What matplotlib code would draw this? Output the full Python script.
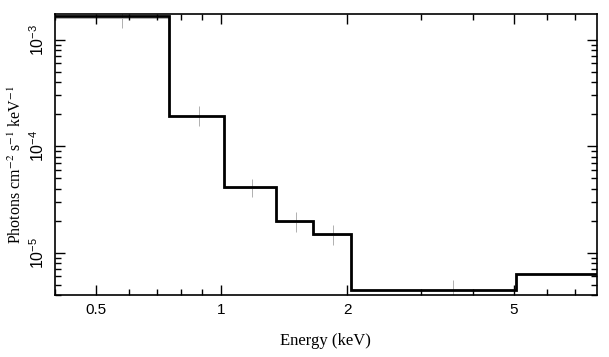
import matplotlib
matplotlib.use("Agg")
import matplotlib.pyplot as plt
from matplotlib.ticker import FixedLocator, FixedFormatter, LogLocator, NullFormatter

plt.rcParams["mathtext.fontset"] = "custom"
plt.rcParams["mathtext.rm"] = "Liberation Sans"
plt.rcParams["mathtext.it"] = "Liberation Sans:italic"
plt.rcParams["mathtext.bf"] = "Liberation Sans:bold"

# model step (folded spectrum)
edges = [0.4, 0.751, 1.013, 1.351, 1.656, 2.04, 5.07, 7.9]
model = [1.68e-3, 1.92e-4, 4.1e-5, 1.97e-5, 1.5e-5, 4.5e-6, 6.25e-6]

# data points (grey crosses)
ex = [0.579, 0.883, 1.184, 1.507, 1.848, 3.57]
ey = [1.6e-3, 1.92e-4, 4.04e-5, 1.93e-5, 1.47e-5, 4.5e-6]
ey_lo = [1.28e-3, 1.55e-4, 3.3e-5, 1.55e-5, 1.19e-5, 3.5e-6]
ey_hi = [2.0e-3, 2.38e-4, 4.95e-5, 2.4e-5, 1.81e-5, 5.5e-6]

xticks = [0.5, 1, 2, 5]
xticklabels = ["0.5", "1", "2", "5"]
yticks = [1e-5, 1e-4, 1e-3]
yticklabels = [r"$\mathregular{10^{-5}}$", r"$\mathregular{10^{-4}}$", r"$\mathregular{10^{-3}}$"]

fig = plt.figure(figsize=(6.09, 3.57), dpi=100)
ax = fig.add_axes([0.0903, 0.1737, 0.8897, 0.7873])

xlo = [edges[i] for i in range(len(ex))]
xhi = [edges[i + 1] for i in range(len(ex))]
ax.errorbar(ex, ey,
            xerr=[[x - a for x, a in zip(ex, xlo)], [b - x for x, b in zip(ex, xhi)]],
            yerr=[[y - l for y, l in zip(ey, ey_lo)], [h - y for y, h in zip(ey, ey_hi)]],
            fmt="none", ecolor="#b0b0b0", elinewidth=0.7, capsize=0, zorder=1)
ax.stairs(model, edges, baseline=None, color="black", linewidth=2.0, zorder=2)

ax.set_xscale("log")
ax.set_yscale("log")
ax.set_xlim(0.4, 7.9)
ax.set_ylim(4.0e-6, 1.75e-3)

ax.xaxis.set_major_locator(FixedLocator(xticks))
ax.xaxis.set_major_formatter(FixedFormatter(xticklabels))
ax.xaxis.set_minor_locator(FixedLocator([0.4, 0.6, 0.7, 0.8, 0.9, 3, 4, 6, 7]))
ax.xaxis.set_minor_formatter(NullFormatter())
ax.yaxis.set_major_locator(FixedLocator(yticks))
ax.yaxis.set_major_formatter(FixedFormatter(yticklabels))
ax.yaxis.set_minor_locator(LogLocator(base=10, subs=range(2, 10)))
ax.yaxis.set_minor_formatter(NullFormatter())

ax.tick_params(which="both", direction="in", top=True, right=True, width=1.0, color="black")
ax.tick_params(which="major", length=7, labelsize=11, pad=6)
ax.tick_params(which="minor", length=4)
for lab in ax.get_xticklabels() + ax.get_yticklabels():
    lab.set_family("Liberation Sans")
for lab in ax.get_yticklabels():
    lab.set_rotation(90)
    lab.set_va("center")
    lab.set_fontsize(11.5)
for sp in ax.spines.values():
    sp.set_linewidth(1.2)

ax.set_xlabel("Energy (keV)", family="Liberation Serif", fontsize=12, labelpad=11)
ax.set_ylabel(r"Photons cm$^{-2}$ s$^{-1}$ keV$^{-1}$", family="Liberation Serif",
              math_fontfamily="stix", fontsize=11.5)
ax.yaxis.set_label_coords(-0.055, 0.463)

fig.savefig("out.png", dpi=100)
